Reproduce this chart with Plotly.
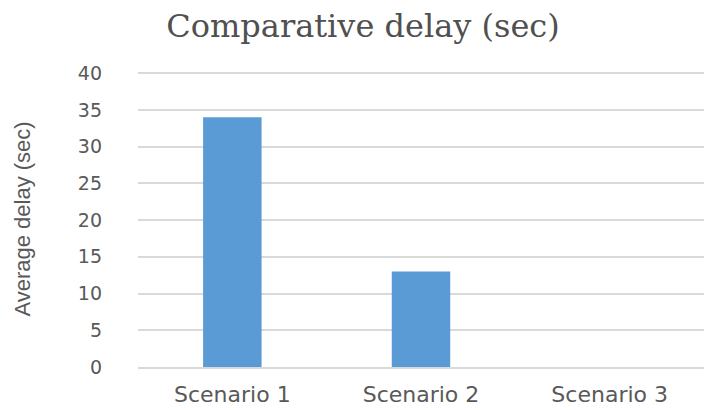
import plotly.graph_objects as go

# Chart data
scenarios = ["Scenario 1", "Scenario 2", "Scenario 3"]
avg_delay = [34, 13, 0]
y_ticks = [0, 5, 10, 15, 20, 25, 30, 35, 40]

BAR_BLUE = "#5B9BD5"
TEXT_GRAY = "#595959"
GRID_GRAY = "#D9D9D9"

fig = go.Figure(
    go.Bar(
        x=scenarios,
        y=avg_delay,
        marker=dict(color=BAR_BLUE, line=dict(width=0)),
    )
)

fig.update_layout(
    width=704,
    height=410,
    margin=dict(l=138, r=0, t=71, b=43),
    paper_bgcolor="white",
    plot_bgcolor="white",
    bargap=0.69,
    showlegend=False,
    title=dict(
        text="Comparative delay (sec)",
        font=dict(family="DejaVu Serif", size=32, color="#505050"),
        xref="container",
        yref="container",
        x=363 / 704,
        y=1 - 26 / 410,
        xanchor="center",
        yanchor="middle",
    ),
    font=dict(family="DejaVu Sans", color=TEXT_GRAY),
)

fig.update_xaxes(
    showgrid=False,
    showline=True,
    linecolor=GRID_GRAY,
    linewidth=1.5,
    ticks="",
    tickfont=dict(family="DejaVu Sans", size=22, color=TEXT_GRAY),
    ticklabelstandoff=7,
)

fig.update_yaxes(
    range=[0, 40.3],
    tickvals=y_ticks,
    showgrid=True,
    gridcolor=GRID_GRAY,
    gridwidth=1.5,
    zeroline=False,
    ticks="",
    tickfont=dict(family="DejaVu Sans", size=19, color=TEXT_GRAY),
    ticklabelstandoff=35,
    title=dict(
        text="Average delay (sec)",
        font=dict(family="Liberation Sans", size=22, color=TEXT_GRAY),
        standoff=41,
    ),
)

fig.write_html("out.html")
